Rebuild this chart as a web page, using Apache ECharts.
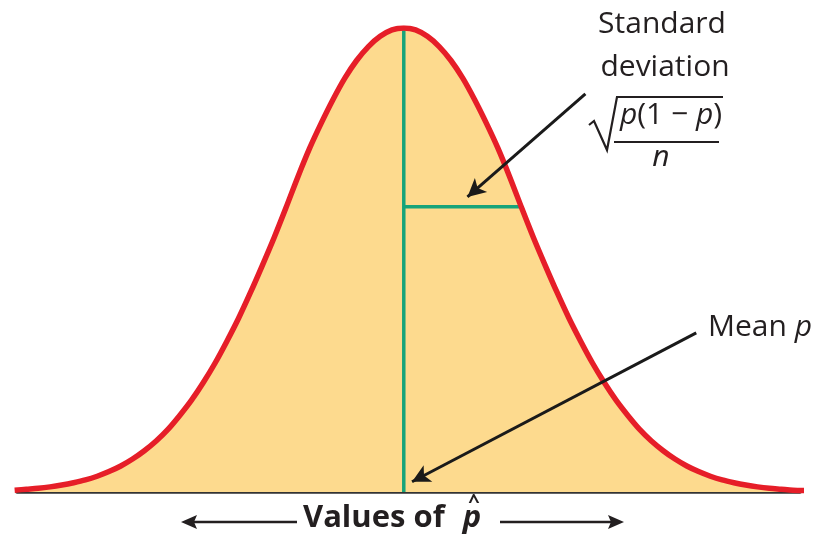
<!DOCTYPE html>
<html>
<head>
<meta charset="utf-8">
<script src="https://cdn.jsdelivr.net/npm/echarts@6/dist/echarts.min.js"></script>
<style>html,body{margin:0;padding:0;background:#fff}#c{width:821px;height:539px}</style>
</head>
<body>
<div id="c"></div>
<script>
// x positions in standard deviations from the mean, heights relative to the peak
var xs = [-3.3,-3.2,-3.1,-3.0,-2.9,-2.8,-2.7,-2.6,-2.5,-2.4,-2.3,-2.2,-2.1,-2.0,-1.9,-1.8,-1.7,-1.6,-1.5,-1.4,-1.3,-1.2,-1.1,-1.0,-0.9,-0.8,-0.7,-0.6,-0.5,-0.4,-0.3,-0.2,-0.1,
          0,0.1,0.2,0.3,0.4,0.5,0.6,0.7,0.8,0.9,1.0,1.1,1.2,1.3,1.4,1.5,1.6,1.7,1.8,1.9,2.0,2.1,2.2,2.3,2.4,2.5,2.6,2.7,2.8,2.9,3.0,3.1,3.2,3.3,3.4];
var ys = [0.004,0.006,0.008,0.011,0.015,0.020,0.026,0.034,0.044,0.056,0.071,0.089,0.110,0.135,0.165,0.198,0.236,0.278,0.325,0.375,0.430,0.488,0.548,0.612,0.678,0.740,0.795,0.846,0.892,0.930,0.960,0.982,0.996,
          1,0.996,0.982,0.960,0.930,0.892,0.846,0.795,0.740,0.678,0.612,0.548,0.488,0.430,0.375,0.325,0.278,0.236,0.198,0.165,0.135,0.110,0.089,0.071,0.056,0.044,0.034,0.026,0.020,0.015,0.011,0.008,0.006,0.004,0.003];
var meanLine = [[0,0],[0,0.995]];
var sdLine = [[0,0.615],[1.0,0.615]];
var sdArrow = [[1.54,0.858],[0.54,0.636]];
var meanArrow = [[2.48,0.343],[0.07,0.022]];

var curve = xs.map(function(x,i){return [x, ys[i]];});
var FONT = '"Open Sans", "Noto Sans", sans-serif';
var TXT = '#231f20';

var chart = echarts.init(document.getElementById('c'));
chart.setOption({
  animation:false,
  grid:{left:17,right:21,top:28,bottom:47},
  xAxis:{type:'value',min:-3.28,max:3.36,axisLine:{show:true,onZero:false,lineStyle:{color:'#333333',width:3.5}},axisTick:{show:false},axisLabel:{show:false},splitLine:{show:false}},
  yAxis:{type:'value',min:0,max:1,show:false,splitLine:{show:false}},
  series:[
    {type:'line',data:curve,smooth:0.3,symbol:'none',lineStyle:{width:0},areaStyle:{color:'#fdda8e',opacity:1},z:1},
    {type:'line',data:meanLine,symbol:'none',lineStyle:{color:'#16a47a',width:3.5},z:2},
    {type:'line',data:sdLine,symbol:'none',lineStyle:{color:'#16a47a',width:3.5},z:2},
    {type:'line',data:curve,smooth:0.3,symbol:'none',lineStyle:{color:'#e61e28',width:5.5,join:'round'},z:3,
      markLine:{silent:true,symbol:['none','arrow'],symbolSize:[14,18],label:{show:false},
        lineStyle:{color:'#1a1a1a',width:3,type:'solid'},
        data:[[{coord:sdArrow[0]},{coord:sdArrow[1]}],[{coord:meanArrow[0]},{coord:meanArrow[1]}]]}}
  ],
  graphic:[
    {type:'text',style:{text:'Standard',x:662,y:24,font:'30px '+FONT,fill:TXT,textAlign:'center',textVerticalAlign:'middle'}},
    {type:'text',style:{text:'deviation',x:665,y:67,font:'30px '+FONT,fill:TXT,textAlign:'center',textVerticalAlign:'middle'}},
    {type:'polyline',shape:{points:[[589,125],[594,121],[607,150],[617,97],[723,97]]},style:{stroke:TXT,lineWidth:2.2,fill:null}},
    {type:'text',style:{text:'{i|p}(1 − {i|p})',x:671,y:115,font:'30px '+FONT,fill:TXT,textAlign:'center',textVerticalAlign:'middle',rich:{i:{fontStyle:'italic',fontSize:30,fontFamily:FONT}}}},
    {type:'line',shape:{x1:614,y1:142,x2:719,y2:142},style:{stroke:TXT,lineWidth:2.2}},
    {type:'text',style:{text:'n',x:661,y:157,font:'italic 30px '+FONT,fill:TXT,textAlign:'center',textVerticalAlign:'middle'}},
    {type:'text',style:{text:'Mean {i|p}',x:708,y:327,font:'30px '+FONT,fill:TXT,textAlign:'left',textVerticalAlign:'middle',rich:{i:{fontStyle:'italic',fontSize:30,fontFamily:FONT}}}},
    {type:'text',style:{text:'Values of',x:303,y:518,font:'bold 31px '+FONT,fill:TXT,textAlign:'left',textVerticalAlign:'middle'}},
    {type:'text',style:{text:'p',x:472,y:518,font:'italic bold 31px '+FONT,fill:TXT,textAlign:'center',textVerticalAlign:'middle'}},
    {type:'text',style:{text:'^',x:474,y:502,font:'bold 20px '+FONT,fill:TXT,textAlign:'center',textVerticalAlign:'middle'}},
    {type:'line',shape:{x1:192,y1:522,x2:297,y2:522},style:{stroke:TXT,lineWidth:2.5}},
    {type:'polygon',shape:{points:[[181,522],[197,515],[194,522],[197,529]]},style:{fill:TXT}},
    {type:'line',shape:{x1:500,y1:522,x2:612,y2:522},style:{stroke:TXT,lineWidth:2.5}},
    {type:'polygon',shape:{points:[[624,522],[608,515],[611,522],[608,529]]},style:{fill:TXT}}
  ]
});
</script>
</body>
</html>
